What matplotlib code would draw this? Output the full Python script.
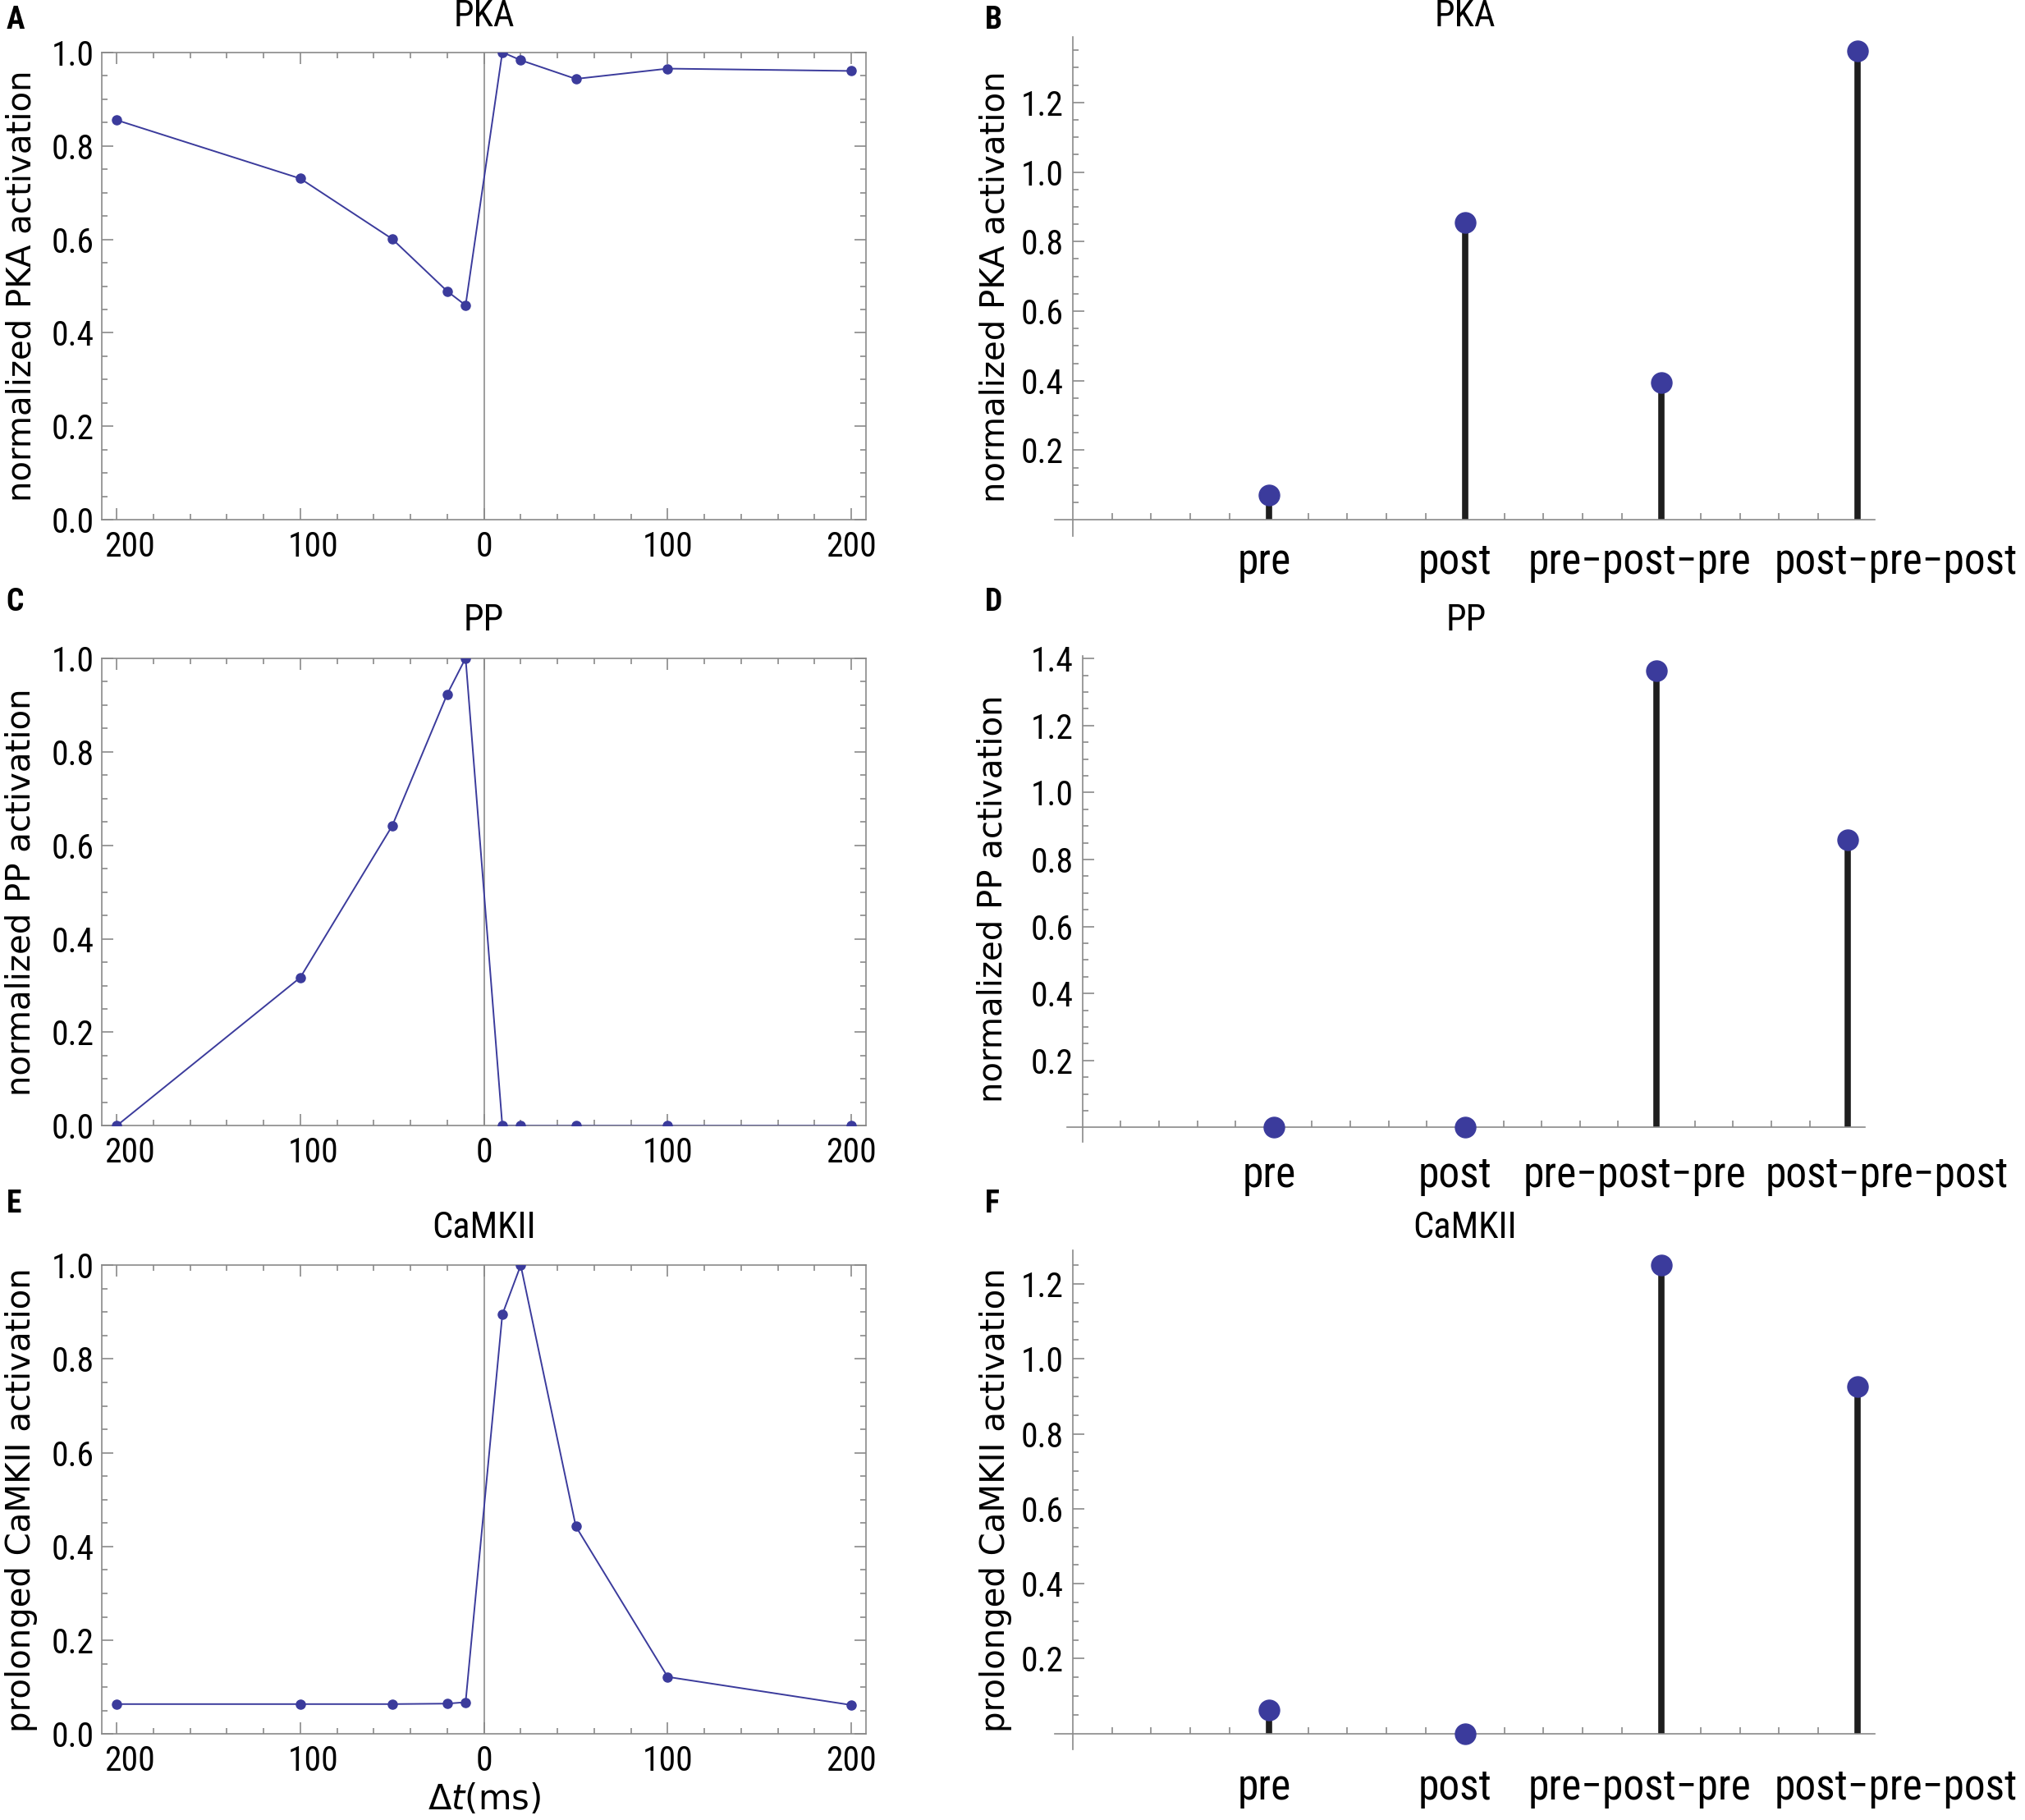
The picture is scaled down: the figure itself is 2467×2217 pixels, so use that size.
import numpy as np
import matplotlib
matplotlib.use("Agg")
import matplotlib.pyplot as plt
from matplotlib import font_manager
from matplotlib.ticker import FixedLocator, FuncFormatter, MultipleLocator
from matplotlib.transforms import ScaledTranslation, blended_transform_factory

# spike timing intervals (ms), negative = post before pre
dt = [-200, -100, -50, -20, -10, 10, 20, 50, 100, 200]
pka_dt = [0.855, 0.730, 0.601, 0.489, 0.459, 1.0, 0.983, 0.943, 0.965, 0.960]
pp_dt = [0.0, 0.317, 0.641, 0.923, 1.0, 0.0, 0.0, 0.0, 0.0, 0.0]
camk_dt = [0.064, 0.064, 0.064, 0.065, 0.068, 0.895, 1.0, 0.443, 0.122, 0.062]

# stimulation protocols
protocols = ["pre", "post", "pre\u2212post\u2212pre", "post\u2212pre\u2212post"]
pka_prot = [0.072, 0.856, 0.395, 1.348]
pp_prot = [0.0, 0.0, 1.363, 0.859]
camk_prot = [0.064, 0.0, 1.251, 0.927]


def pick_font(names):
    for n in names:
        try:
            font_manager.findfont(font_manager.FontProperties(family=n),
                                  fallback_to_default=False)
            return n
        except ValueError:
            pass
    return "DejaVu Sans"


narrow = pick_font(["Liberation Sans Narrow", "Roboto Condensed", "Open Sans Condensed"])
k = 1.0 if narrow != "DejaVu Sans" else 0.8

blue = "#3b3b9c"
frame = "#8a8a8a"

fig = plt.figure(figsize=(24.67, 22.17), dpi=100)


def time_panel(rect, y, title, ylabel, letter, letter_y, title_y, ylab_x):
    ax = fig.add_axes(rect)
    ax.axvline(0, color="#8c8c8c", lw=1.2, zorder=1)
    ax.plot(dt, y, color=blue, lw=1.4, marker="o", ms=8, zorder=3)
    ax.set_xlim(-208, 208)
    ax.set_ylim(0, 1)
    ax.xaxis.set_major_locator(FixedLocator([-200, -100, 0, 100, 200]))
    ax.xaxis.set_minor_locator(MultipleLocator(20))
    ax.xaxis.set_major_formatter(FuncFormatter(lambda v, p: f"{abs(v):.0f}"))
    ax.yaxis.set_major_locator(MultipleLocator(0.2))
    ax.yaxis.set_minor_locator(MultipleLocator(0.05))
    ax.yaxis.set_major_formatter(FuncFormatter(lambda v, p: f"{v:.1f}"))
    ax.tick_params(which="both", direction="in", top=True, right=True, color=frame, width=1.2)
    ax.tick_params(which="major", length=10, labelsize=30 * k, pad=7)
    ax.tick_params(which="minor", length=5)
    ax.tick_params(axis="x", which="major", pad=9)
    for lab in ax.get_xticklabels() + ax.get_yticklabels():
        lab.set_family(narrow)
    for s in ax.spines.values():
        s.set_color(frame)
        s.set_linewidth(1.2)
    ax.set_ylabel(ylabel, fontsize=29, family="DejaVu Sans", va="center")
    ax.yaxis.set_label_coords(ylab_x, 0.5,
                              transform=blended_transform_factory(fig.transFigure, ax.transAxes))
    ax.text(0.5, title_y, title, transform=blended_transform_factory(ax.transAxes, fig.transFigure),
            ha="center", va="center", fontsize=32 * k, family=narrow)
    fig.text(0.003, letter_y, letter, fontsize=27 * k, fontweight="bold", family=narrow,
             ha="left", va="center")
    # negative side labels sit a little to the right (minus sign dropped)
    shift = ScaledTranslation(0.16, 0, fig.dpi_scale_trans)
    for tick in ax.xaxis.get_major_ticks():
        if tick.get_loc() < 0:
            tick.label1.set_transform(tick.label1.get_transform() + shift)
    return ax


def protocol_panel(rect, y, xlim, ylim, title, ylabel, letter, letter_y, title_y, ylab_x, lab_dy):
    ax = fig.add_axes(rect)
    x = np.arange(1, len(protocols) + 1)
    ax.vlines(x, 0, y, color="#1e1e1e", lw=5.5, zorder=2)
    ax.plot(x, y, "o", color=blue, ms=18, zorder=3, clip_on=False)
    ax.set_xlim(*xlim)
    ax.set_ylim(*ylim)
    for s in ["top", "right"]:
        ax.spines[s].set_visible(False)
    for s in ["left", "bottom"]:
        ax.spines[s].set_position(("data", 0))
        ax.spines[s].set_color(frame)
        ax.spines[s].set_linewidth(1.2)
    ax.yaxis.set_major_locator(FixedLocator(np.arange(0.2, ylim[1], 0.2)))
    ax.yaxis.set_minor_locator(FixedLocator(np.arange(0.05, ylim[1], 0.05)))
    ax.yaxis.set_major_formatter(FuncFormatter(lambda v, p: f"{v:.1f}"))
    ax.xaxis.set_major_locator(FixedLocator([]))
    ax.xaxis.set_minor_locator(FixedLocator(np.arange(0.2, 4.01, 0.2)))
    ax.tick_params(which="both", direction="in", color=frame, width=1.2)
    ax.tick_params(axis="y", which="major", length=10, labelsize=30 * k, pad=8)
    ax.tick_params(axis="y", which="minor", length=5)
    ax.tick_params(axis="x", which="minor", length=6)
    for lab in ax.get_yticklabels():
        lab.set_family(narrow)
    offsets = [-4, -9, -19, 34]
    for xi, name, dx in zip(x, protocols, offsets):
        ax.annotate(name, xy=(xi, 0), xycoords="data", xytext=(dx, -lab_dy),
                    textcoords="offset points", ha="center", va="center",
                    fontsize=37 * k, family=narrow, annotation_clip=False)
    ax.set_ylabel(ylabel, fontsize=29, family="DejaVu Sans", va="center")
    ax.yaxis.set_label_coords(ylab_x, 0.5,
                              transform=blended_transform_factory(fig.transFigure, ax.transAxes))
    ax.text(0.5, title_y, title, transform=blended_transform_factory(ax.transAxes, fig.transFigure),
            ha="center", va="center", fontsize=32 * k, family=narrow)
    fig.text(0.4865, letter_y, letter, fontsize=27 * k, fontweight="bold", family=narrow,
             ha="left", va="center")
    return ax


time_panel([0.0503, 0.7143, 0.3774, 0.2570], pka_dt, "PKA",
           "normalized PKA activation", "A", 0.989, 0.991, 0.0107)
time_panel([0.0503, 0.3814, 0.3774, 0.2570], pp_dt, "PP",
           "normalized PP activation", "C", 0.669, 0.6588, 0.0103)
axE = time_panel([0.0503, 0.0472, 0.3774, 0.2576], camk_dt, "CaMKII",
                 "prolonged CaMKII activation", "E", 0.3386, 0.3253, 0.0107)
axE.set_xlabel(r"$\Delta t$(ms)", fontsize=30, va="center")
axE.xaxis.set_label_coords(0.5, 0.0115,
                           transform=blended_transform_factory(axE.transAxes, fig.transFigure))

protocol_panel([0.521, 0.7054, 0.405, 0.2744], pka_prot, (-0.09, 4.09), (-0.047, 1.389),
               "PKA", "normalized PKA activation", "B", 0.989, 0.991, 0.4913, 37)
protocol_panel([0.527, 0.3726, 0.394, 0.2670], pp_prot, (-0.08, 4.09), (-0.043, 1.408),
               "PP", "normalized PP activation", "D", 0.669, 0.6588, 0.4903, 42)
protocol_panel([0.521, 0.0388, 0.405, 0.2743], camk_prot, (-0.09, 4.09), (-0.042, 1.29),
               "CaMKII", "prolonged CaMKII activation", "F", 0.3386, 0.3253, 0.4916, 48)

fig.savefig("out.png", dpi=100)
